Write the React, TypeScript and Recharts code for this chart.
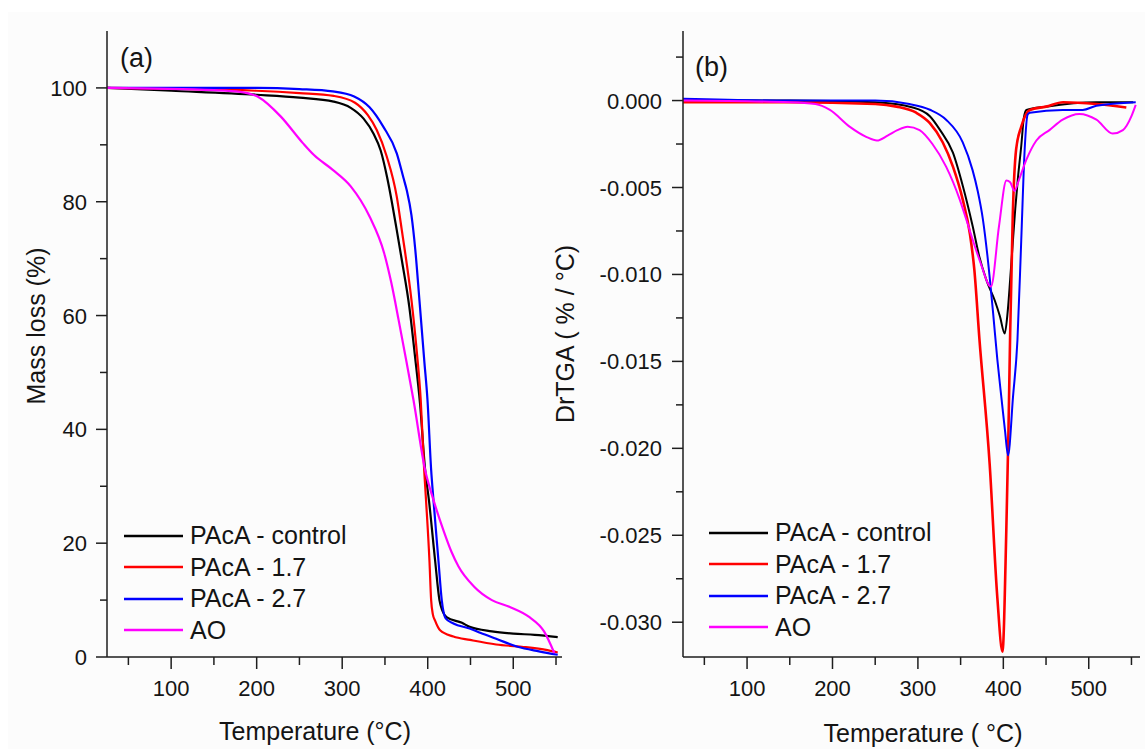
import React from 'react';
import { LineChart, Line, XAxis, YAxis, Legend } from 'recharts';

const FONT = '"Liberation Sans", Arial, Helvetica, sans-serif';
const AXIS = '#1e1e1e';
const TEXT = '#141414';

const SERIES_NAMES = ['PAcA - control', 'PAcA - 1.7', 'PAcA - 2.7', 'AO'];
const SERIES_COLORS = ['#000000', '#ff0000', '#0000ff', '#ff00ff'];

const TEMP_MAJOR = [100, 200, 300, 400, 500];
const TEMP_MINOR = [50, 150, 250, 350, 450, 550];
const MASS_MAJOR = [0, 20, 40, 60, 80, 100];
const MASS_MINOR = [10, 30, 50, 70, 90];
const DTG_MAJOR = [0, -0.005, -0.01, -0.015, -0.02, -0.025, -0.03];
const DTG_MINOR = [0.0025, -0.0025, -0.0075, -0.0125, -0.0175, -0.0225, -0.0275];

// (a) mass loss (%) vs temperature (°C)
const tgaControl = [[25, 100], [100, 99.5], [200, 98.8], [250, 98.3], [290, 97.6], [310, 96.5], [325, 94.6], [336.5, 92], [345, 89], [352.5, 84.3], [358, 80], [363.8, 75], [370, 69.5], [378.5, 61.5], [385, 53], [391, 44.5], [396.9, 33], [401.6, 27.3], [408.6, 17], [413.7, 10], [417, 8.2], [422, 7], [440, 6], [449, 5.3], [475, 4.5], [500, 4.1], [525, 3.9], [552, 3.5]];
const tga17 = [[25, 100], [200, 99.5], [250, 99.1], [290, 98.6], [315, 97.4], [330, 95.2], [340.4, 92.6], [352, 88], [363.8, 80.9], [369.7, 75], [381, 62.7], [387, 54], [391.8, 45.2], [395.8, 33], [398, 27.6], [402, 17], [404, 10], [406, 7.5], [408.6, 6.4], [414.5, 4.7], [430, 3.6], [449.6, 3], [480, 2.2], [510, 1.8], [540, 1.2], [552, 0.8]];
const tga27 = [[25, 100], [200, 100], [250, 99.8], [289, 99.4], [314, 98.5], [332, 96.6], [348, 93.2], [363.8, 88.5], [371.6, 84.2], [375.5, 82], [381, 77.6], [385.5, 71.5], [390.3, 62.7], [396, 52], [399.7, 45.2], [404, 32.9], [406.7, 27.6], [412.5, 17], [416.4, 10], [421, 6.8], [430, 5.9], [449, 5], [462, 4.2], [480, 3.2], [505, 1.8], [530, 1], [552, 0.4]];
const tgaAO = [[25, 100], [150, 99.6], [181, 99.3], [202, 98.4], [228, 95], [254, 90.3], [267, 88.2], [289, 85.6], [310, 82.7], [332, 77.4], [349, 71], [357.5, 65.7], [366, 59.2], [375, 52], [383.3, 45.2], [396.9, 32.9], [406.7, 27.6], [419, 22], [428, 18.4], [436, 15.9], [454, 12.4], [475, 10], [496, 8.8], [519, 7], [536, 4.5], [548, 0.7]];

// (b) DrTGA (% / °C) vs temperature (°C)
const dtgControl = [[25, 0], [150, 0], [250, -0.0001], [294, -0.0004], [314, -0.0009], [326, -0.0017], [341, -0.003], [352.5, -0.0049], [364, -0.0072], [372, -0.009], [380, -0.0103], [390, -0.0115], [396, -0.0124], [401.6, -0.0134], [405, -0.0122], [408, -0.0103], [410.6, -0.0085], [414, -0.0062], [417, -0.0045], [421, -0.0026], [424, -0.001], [427, -0.00054], [450, -0.00035], [509, -0.0001], [552, -0.0001]];
const dtg17 = [[25, -0.0001], [150, -0.0001], [250, -0.0002], [275, -0.00035], [298, -0.0007], [314, -0.0013], [329, -0.0024], [341, -0.0038], [352.5, -0.0057], [361, -0.0077], [366, -0.0097], [372, -0.0137], [384, -0.0209], [393, -0.0286], [399, -0.0317], [403.5, -0.0247], [406, -0.019], [408, -0.0134], [411, -0.0067], [415, -0.0028], [421, -0.0015], [431, -0.00054], [450, -0.00035], [470, -0.0001], [509, -0.0002], [544, -0.0004]];
const dtg27 = [[25, 0.0001], [150, 0], [250, 0], [290, -0.0002], [314, -0.00053], [333, -0.0011], [352.5, -0.0024], [364, -0.004], [370, -0.0052], [376, -0.0068], [382, -0.0092], [388, -0.0122], [393, -0.0149], [398, -0.0172], [402, -0.019], [405.5, -0.0204], [411.4, -0.017], [416.5, -0.0138], [421, -0.008], [425, -0.0028], [428.5, -0.0008], [431, -0.0007], [469.5, -0.00054], [493, -0.00054], [509, -0.0003], [555, -0.0001]];
const dtgAO = [[25, 0], [150, -0.0001], [180, -0.0002], [197, -0.00054], [220, -0.0015], [240, -0.0021], [252, -0.0023], [265, -0.002], [276, -0.0017], [288, -0.0015], [302, -0.0017], [317, -0.0025], [333, -0.0038], [349, -0.0057], [357, -0.0069], [372.4, -0.0092], [385.5, -0.0107], [395, -0.0072], [403.6, -0.0046], [408, -0.0047], [413, -0.0052], [418, -0.0046], [427, -0.0034], [438.7, -0.0023], [454, -0.0017], [469.5, -0.0011], [489, -0.00077], [509, -0.0011], [528, -0.0019], [540, -0.0017], [550, -0.0009], [555, -0.00025]];

const toPoints = (rows: number[][]) => rows.map(([t, v]) => ({ t, v }));

const tgaSeries = [tgaControl, tga17, tga27, tgaAO];
const dtgSeries = [dtgControl, dtg17, dtg27, dtgAO];

const makeXTick = (majors: number[]) => (props: any) => {
  const { x, y, payload } = props;
  const major = majors.includes(payload.value);
  return (
    <g>
      <line x1={x} y1={y} x2={x} y2={y + (major ? 12 : 8)} stroke={AXIS} strokeWidth={1.5} />
      {major && (
        <text x={x} y={y + 39} textAnchor="middle" fontSize={22} fontFamily={FONT} fill={TEXT}>
          {payload.value}
        </text>
      )}
    </g>
  );
};

const makeYTick = (majors: number[], gap: number, fmt: (v: number) => string) => (props: any) => {
  const { x, y, payload } = props;
  const major = majors.includes(payload.value);
  return (
    <g>
      <line x1={x} y1={y} x2={x - (major ? 11 : 7)} y2={y} stroke={AXIS} strokeWidth={1.5} />
      {major && (
        <text x={x - gap} y={y + 8} textAnchor="end" fontSize={22} fontFamily={FONT} fill={TEXT}>
          {fmt(payload.value)}
        </text>
      )}
    </g>
  );
};

// keep the legend in series order, not alphabetical
const legendContent = (props: any) => {
  const items = [...(props.payload || [])].sort(
    (a: any, b: any) => SERIES_NAMES.indexOf(a.value) - SERIES_NAMES.indexOf(b.value)
  );
  return (
    <div style={{ fontFamily: FONT }}>
      {items.map((e: any) => (
        <div key={e.value} style={{ display: 'flex', alignItems: 'center', height: 31.5 }}>
          <svg width={59} height={6} style={{ display: 'block' }}>
            <line x1={0} y1={3} x2={59} y2={3} stroke={e.color} strokeWidth={2.5} />
          </svg>
          <span style={{ marginLeft: 7, fontSize: 25, lineHeight: '31.5px', color: TEXT, whiteSpace: 'nowrap' }}>
            {e.value}
          </span>
        </div>
      ))}
    </div>
  );
};

const axisLine = { stroke: AXIS, strokeWidth: 1.5 };

export default function App() {
  return (
    <div style={{ position: 'absolute', left: 0, top: 0, width: 1145, height: 749, background: '#fff', overflow: 'hidden' }}>
      <div style={{ position: 'absolute', left: 8, top: 12, right: 0, bottom: 0, background: '#fcfcfc' }} />

      <div style={{ position: 'absolute', left: 0, top: 0 }}>
        <LineChart width={575} height={749} margin={{ top: 31, right: 13, bottom: 32, left: 47 }}>
          <XAxis
            type="number"
            dataKey="t"
            domain={[25, 557]}
            allowDataOverflow
            ticks={[...TEMP_MAJOR, ...TEMP_MINOR]}
            interval={0}
            tickSize={0}
            tickMargin={0}
            tickLine={false}
            axisLine={axisLine}
            tick={makeXTick(TEMP_MAJOR)}
            height={60}
          />
          <YAxis
            type="number"
            domain={[0, 110]}
            allowDataOverflow
            ticks={[...MASS_MAJOR, ...MASS_MINOR]}
            interval={0}
            tickSize={0}
            tickMargin={0}
            tickLine={false}
            axisLine={axisLine}
            tick={makeYTick(MASS_MAJOR, 20, (v) => String(v))}
            width={60}
          />
          {tgaSeries.map((s, i) => (
            <Line
              key={SERIES_NAMES[i]}
              name={SERIES_NAMES[i]}
              data={toPoints(s)}
              dataKey="v"
              type="monotone"
              stroke={SERIES_COLORS[i]}
              strokeWidth={2.2}
              dot={false}
              isAnimationActive={false}
            />
          ))}
          <Legend
            layout="vertical"
            align="center"
            verticalAlign="middle"
            content={legendContent}
            wrapperStyle={{ left: 124, top: 520, width: 260 }}
          />
        </LineChart>
      </div>

      <div style={{ position: 'absolute', left: 575, top: 0 }}>
        <LineChart width={570} height={749} margin={{ top: 31, right: 5, bottom: 32, left: 48 }}>
          <XAxis
            type="number"
            dataKey="t"
            domain={[25, 560]}
            allowDataOverflow
            ticks={[...TEMP_MAJOR, ...TEMP_MINOR]}
            interval={0}
            tickSize={0}
            tickMargin={0}
            tickLine={false}
            axisLine={axisLine}
            tick={makeXTick(TEMP_MAJOR)}
            height={60}
          />
          <YAxis
            type="number"
            domain={[-0.032, 0.004]}
            allowDataOverflow
            ticks={[...DTG_MAJOR, ...DTG_MINOR]}
            interval={0}
            tickSize={0}
            tickMargin={0}
            tickLine={false}
            axisLine={axisLine}
            tick={makeYTick(DTG_MAJOR, 21, (v) => v.toFixed(3))}
            width={60}
          />
          {dtgSeries.map((s, i) => (
            <Line
              key={SERIES_NAMES[i]}
              name={SERIES_NAMES[i]}
              data={toPoints(s)}
              dataKey="v"
              type="monotone"
              stroke={SERIES_COLORS[i]}
              strokeWidth={i === 1 ? 2.6 : 2}
              dot={false}
              isAnimationActive={false}
            />
          ))}
          <Legend
            layout="vertical"
            align="center"
            verticalAlign="middle"
            content={legendContent}
            wrapperStyle={{ left: 134, top: 517, width: 260 }}
          />
        </LineChart>
      </div>

      <svg width={1145} height={749} style={{ position: 'absolute', left: 0, top: 0, pointerEvents: 'none' }} fontFamily={FONT} fill={TEXT}>
        <text x={120} y={67} fontSize={27}>(a)</text>
        <text x={695} y={76} fontSize={27}>(b)</text>
        <text transform="translate(45 326) rotate(-90)" textAnchor="middle" fontSize={25}>Mass loss (%)</text>
        <text x={315} y={740} textAnchor="middle" fontSize={25}>Temperature (°C)</text>
        <text transform="translate(574 334) rotate(-90)" textAnchor="middle" fontSize={25}>DrTGA ( % / °C)</text>
        <text x={923} y={742} textAnchor="middle" fontSize={25}>Temperature ( °C)</text>
      </svg>
    </div>
  );
}
